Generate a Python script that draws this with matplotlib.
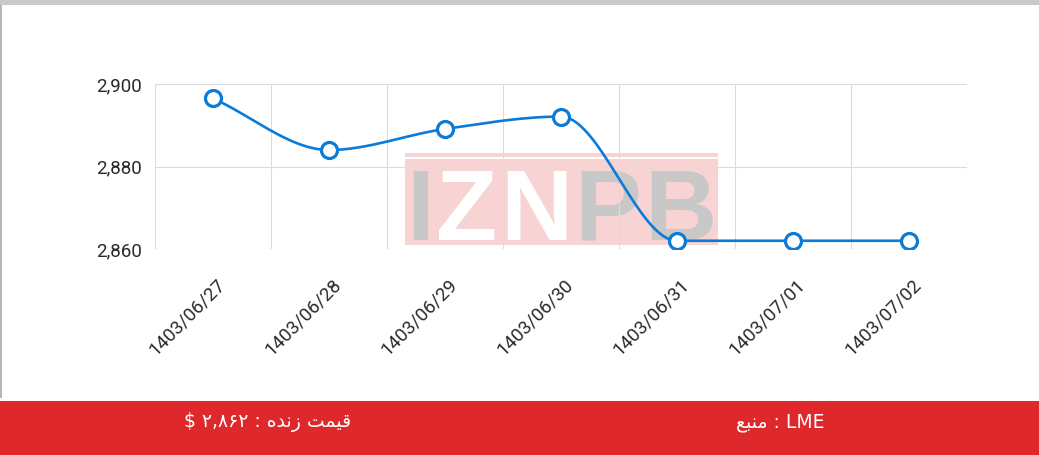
import numpy as np
import matplotlib
matplotlib.use("Agg")
import matplotlib.pyplot as plt
from matplotlib.patches import Rectangle
from matplotlib.ticker import FuncFormatter, FixedLocator
from matplotlib.transforms import ScaledTranslation

# ------------------------------
# DATA
# ------------------------------

dates = ["1403/06/27", "1403/06/28", "1403/06/29", "1403/06/30",
         "1403/06/31", "1403/07/01", "1403/07/02"]
prices = [2896.5, 2884.0, 2889.1, 2892.1, 2862.0, 2862.0, 2862.0]
y_ticks = [2860, 2880, 2900]

# footer text, written in visual (left-to-right) order with Arabic presentation forms
live_price_label = "$ \u06F2,\u06F8\u06F6\u06F2 : \uFEE9\uFEAA\uFEE7\uFEAF \uFE96\uFEE4\uFBFF\uFED7"
source_label = "\uFECA\uFE92\uFEE8\uFEE3 : LME"

W, H = 1039, 455
BLUE = "#0a7bd8"
RED = "#df282b"
GRID = "#dcdcdc"


def monotone_curve(y, steps=40):
    # Fritsch-Carlson monotone cubic, same idea as chart.js "monotone"
    y = np.asarray(y, dtype=float)
    x = np.arange(len(y), dtype=float)
    d = np.diff(y) / np.diff(x)
    m = np.zeros(len(y))
    m[0], m[-1] = d[0], d[-1]
    for k in range(1, len(y) - 1):
        if d[k - 1] * d[k] > 0:
            m[k] = (d[k - 1] + d[k]) / 2
    for k in range(len(d)):
        if d[k] == 0:
            m[k] = m[k + 1] = 0
            continue
        a, b = m[k] / d[k], m[k + 1] / d[k]
        s = a * a + b * b
        if s > 9:
            t = 3 / np.sqrt(s)
            m[k], m[k + 1] = t * a * d[k], t * b * d[k]
    xs, ys = [], []
    for k in range(len(d)):
        t = np.linspace(0, 1, steps)
        h00 = 2 * t**3 - 3 * t**2 + 1
        h10 = t**3 - 2 * t**2 + t
        h01 = -2 * t**3 + 3 * t**2
        h11 = t**3 - t**2
        xs.append(x[k] + t)
        ys.append(h00 * y[k] + h10 * m[k] + h01 * y[k + 1] + h11 * m[k + 1])
    return np.concatenate(xs), np.concatenate(ys)


def fx(px):
    return px / W


def fy(py):
    return 1 - py / H


fig = plt.figure(figsize=(W / 100, H / 100), dpi=100)
fig.patch.set_facecolor("white")

# top shadow bar and left edge
fig.patches.append(Rectangle((0, fy(5)), 1, 5 / H, transform=fig.transFigure,
                             facecolor="#c9c9c9", edgecolor="none", zorder=-5))
fig.patches.append(Rectangle((0, fy(398)), 2 / W, 393 / H, transform=fig.transFigure,
                             facecolor="#b5b5b5", edgecolor="none", zorder=-5))

# watermark
fig.patches.append(Rectangle((fx(405), fy(245)), 313 / W, 92 / H, transform=fig.transFigure,
                             facecolor="#f8d3d3", edgecolor="none", zorder=-3))
fig.patches.append(Rectangle((fx(405), fy(159)), 313 / W, 2 / H, transform=fig.transFigure,
                             facecolor="white", edgecolor="none", zorder=-3))
left = 406
for letter, adv, col in [("I", 0.278, "#c8c8c8"), ("Z", 0.611, "white"), ("N", 0.722, "white"),
                         ("P", 0.667, "#c8c8c8"), ("B", 0.722, "#c8c8c8")]:
    fig.text(fx(left), fy(240), letter, ha="left", va="baseline", fontsize=72,
             family="Liberation Sans", weight="bold", color=col, zorder=-2)
    left += adv * 100 + 2.5

# ------------------------------
# CHART
# ------------------------------

ax = fig.add_axes([fx(155), fy(249), (967 - 155) / W, (249 - 84) / H])
ax.set_facecolor("none")
x = np.arange(len(prices))
cx, cy = monotone_curve(prices)
ax.plot(cx, cy, color=BLUE, lw=1.9, zorder=3, solid_capstyle="round")
ax.plot(x, prices, linestyle="none", marker="o", ms=11.5, mfc="white",
        mec=BLUE, mew=2.3, zorder=4)

ax.set_xlim(-0.5, len(prices) - 0.5)
ax.set_ylim(2860, 2900)
ax.set_yticks(y_ticks)
ax.yaxis.set_major_formatter(FuncFormatter(lambda v, p: f"{v:,.0f}"))
ax.set_xticks(x)
ax.set_xticklabels(dates)
ax.xaxis.set_minor_locator(FixedLocator(np.arange(-0.5, len(prices), 1.0)))

ax.grid(True, which="minor", axis="x", color=GRID, lw=0.8)
ax.grid(True, which="major", axis="y", color=GRID, lw=0.8)
for s in ax.spines.values():
    s.set_visible(False)
ax.tick_params(which="both", length=0)
ax.tick_params(axis="y", pad=9.5, labelsize=13.5, labelcolor="#2a2a2a")
ax.tick_params(axis="x", pad=0, labelsize=13.5, labelcolor="#2a2a2a")
for lab in ax.get_yticklabels():
    lab.set_family("Roboto")
off = ScaledTranslation(9 / 100, -33 / 100, fig.dpi_scale_trans)
for lab in ax.get_xticklabels():
    lab.set_family("Roboto")
    lab.set_rotation(45)
    lab.set_rotation_mode("anchor")
    lab.set_ha("right")
    lab.set_va("center")
    lab.set_transform(lab.get_transform() + off)

# ------------------------------
# FOOTER
# ------------------------------

fig.patches.append(Rectangle((0, 0), 1, (H - 401) / H, transform=fig.transFigure,
                             facecolor=RED, edgecolor="none", zorder=1))
fig.text(fx(268), fy(422), live_price_label, ha="center", va="center", fontsize=13.5,
         color="white", family=["DejaVu Sans"], zorder=2)
fig.text(fx(780), fy(422), source_label, ha="center", va="center", fontsize=13.5,
         color="white", family=["DejaVu Sans"], zorder=2)

fig.savefig("out.png", dpi=100)
